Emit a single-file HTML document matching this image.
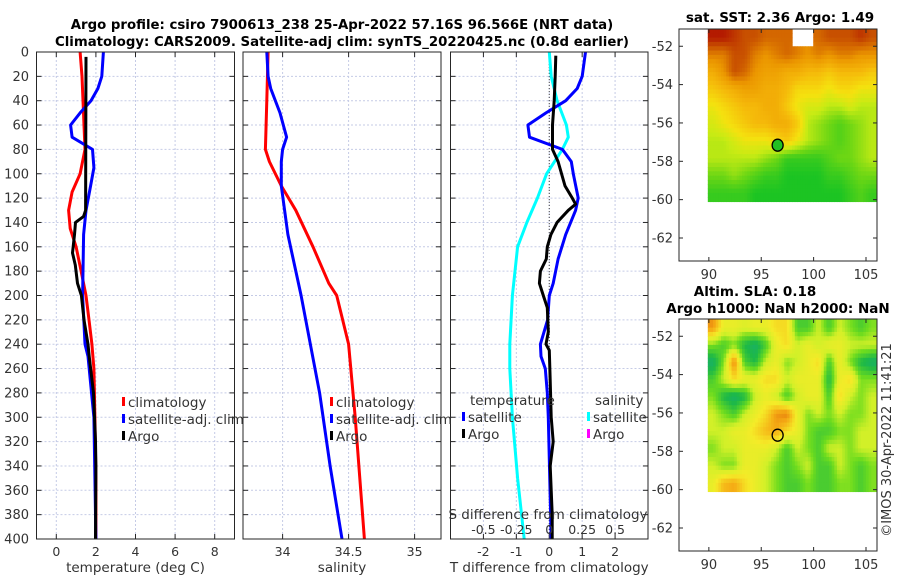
<!DOCTYPE html>
<html><head><meta charset="utf-8">
<style>
html,body{margin:0;padding:0;background:#fff;}
svg{display:block;font-family:"DejaVu Sans","Liberation Sans",sans-serif;}
</style></head>
<body>
<svg id="fig" width="900" height="580" viewBox="0 0 900 580" xmlns="http://www.w3.org/2000/svg"></svg>
<script>
// ---------- data ----------
const depthTicks=[0,20,40,60,80,100,120,140,160,180,200,220,240,260,280,300,320,340,360,380,400];
const tempTicks=[0,2,4,6,8];
const salTicks=[34,34.5,35];
const tdiffTicks=[-2,-1,0,1,2];
const sdiffTicks=[-0.5,-0.25,0,0.25,0.5];
const sdiffLabels=["-0.5","-0.25","0","0.25","0.5"];

const climTDepth=[0,20,40,60,80,100,115,130,145,160,180,200,220,240,260,300,350,400];
const climTVal=[1.2,1.3,1.35,1.4,1.45,1.2,0.8,0.62,0.7,1.0,1.25,1.5,1.65,1.8,1.9,1.95,2.0,2.0];
const satTDepth=[0,20,30,40,50,60,70,80,95,110,130,150,200,240,250,300,400];
const satTVal=[2.38,2.3,2.1,1.75,1.2,0.72,0.8,1.83,1.9,1.73,1.5,1.38,1.33,1.45,1.6,1.9,2.0];
const argoTDepth=[4,130,135,140,150,165,175,190,200,220,240,250,280,320,340,400];
const argoTVal=[1.5,1.48,1.38,0.97,0.92,0.82,0.96,1.07,1.27,1.4,1.6,1.66,1.88,1.98,2.0,1.98];

const climSDepth=[0,40,80,90,110,130,160,190,200,240,300,400];
const climSVal=[33.89,33.88,33.87,33.9,33.99,34.1,34.23,34.35,34.41,34.5,34.55,34.62];
const satSDepth=[0,20,30,50,70,80,90,110,150,200,280,340,400];
const satSVal=[33.88,33.89,33.91,33.98,34.03,34.0,33.99,33.99,34.04,34.14,34.28,34.36,34.45];

const dTSatDepth=[0,20,30,40,50,60,70,80,90,100,120,130,150,170,190,200,220,240,250,260,280,300,400];
const dTSatVal=[1.1,1.0,0.85,0.5,-0.1,-0.65,-0.6,0.4,0.67,0.73,0.88,0.8,0.5,0.27,0.12,0,-0.05,-0.27,-0.25,-0.12,-0.06,-0.03,0.06];
const dTArgoDepth=[3,20,40,60,80,90,110,120,125,130,140,150,160,170,180,190,200,210,230,240,245,270,300,320,340,380,400];
const dTArgoVal=[0.2,0.18,0.15,0.1,0.1,0.27,0.48,0.7,0.8,0.58,0.24,0.05,-0.06,-0.09,-0.27,-0.3,-0.18,-0.06,-0.03,-0.1,0,0.03,0.06,0.12,0.03,0.09,0.09];
const dSSatDepth=[0,20,40,60,70,80,100,120,140,160,200,240,260,300,350,400];
const dSSatVal=[0,0.015,0.06,0.13,0.145,0.1,-0.02,-0.09,-0.17,-0.24,-0.28,-0.3,-0.3,-0.28,-0.24,-0.19];

const lonTicks=[90,95,100,105];
const latTicks=[-52,-54,-56,-58,-60,-62];
const gridLon0=89.9, gridLon1=106, gridLat0=-51.1, gridLat1=-60.1;
const sstGrid=[
[0.95,0.95,0.9,0.85,0.85,0.8,0.8,0.8,null,null,0.8,0.85,0.85,0.85,0.9,0.85],
[0.75,0.75,0.85,0.85,0.75,0.7,0.75,0.8,0.75,0.7,0.75,0.7,0.75,0.75,0.7,0.7],
[0.6,0.7,0.85,0.8,0.7,0.65,0.65,0.6,0.6,0.55,0.55,0.5,0.55,0.55,0.55,0.5],
[0.5,0.55,0.6,0.65,0.65,0.6,0.6,0.55,0.45,0.45,0.45,0.4,0.45,0.45,0.4,0.4],
[0.4,0.45,0.5,0.55,0.55,0.6,0.6,0.5,0.4,0.35,0.35,0.3,0.3,0.35,0.3,0.3],
[0.35,0.4,0.45,0.5,0.55,0.55,0.6,0.6,0.5,0.3,0.25,0.2,0.15,0.2,0.25,0.3],
[0.3,0.3,0.35,0.4,0.4,0.4,0.45,0.5,0.4,0.3,0.25,0.2,0.15,0.2,0.25,0.3],
[0.3,0.3,0.3,0.3,0.3,0.25,0.2,0.1,0.1,0.1,0.1,0.15,0.2,0.2,0.25,0.3],
[0.2,0.2,0.25,0.2,0.15,0.1,0.1,0.05,0.05,0.05,0.05,0.1,0.1,0.15,0.2,0.2],
[0.1,0.1,0.1,0.1,0.05,0.05,0.05,0.05,0.05,0.05,0.05,0.05,0.05,0.1,0.15,0.1]];
const slaGrid=[
[0.9,0.6,0.6,0.55,0.6,0.6,0.7,0.7,0.3,0.3,0.5,0.3,0.5,0.4,0.3,0.4],
[0.4,0.3,0.4,0.2,0.1,0.3,0.6,0.7,0.5,0.6,0.5,0.6,0.6,0.5,0.5,0.5],
[0.1,0.4,0.95,0.3,0.2,0.5,0.6,0.4,0.5,0.6,0.7,0.3,0.6,0.4,0.2,0.1],
[0.3,0.5,0.7,0.6,0.6,0.7,0.7,0.5,0.6,0.6,0.6,0.2,0.6,0.7,0.4,0.4],
[0.4,0.2,0.1,0.2,0.5,0.6,0.5,0.3,0.5,0.6,0.6,0.3,0.7,0.5,0.4,0.5],
[0.5,0.4,0.3,0.5,0.6,0.7,0.9,0.95,0.6,0.4,0.5,0.4,0.5,0.4,0.4,0.5],
[0.5,0.5,0.6,0.6,0.7,0.8,0.85,0.7,0.6,0.4,0.3,0.3,0.4,0.4,0.5,0.5],
[0.4,0.5,0.5,0.6,0.6,0.6,0.5,0.3,0.5,0.4,0.3,0.5,0.5,0.4,0.5,0.5],
[0.5,0.4,0.4,0.6,0.6,0.5,0.4,0.3,0.4,0.5,0.3,0.3,0.5,0.4,0.3,0.4],
[0.6,0.8,0.85,0.7,0.6,0.5,0.4,0.3,0.3,0.4,0.3,0.3,0.4,0.4,0.3,0.4]];
const argoLon=96.566, argoLat=-57.16;

// ---------- helpers ----------
const svg=document.getElementById('fig');
const NS='http://www.w3.org/2000/svg';
function mk(tag,attrs,parent){const e=document.createElementNS(NS,tag);for(const k in attrs)e.setAttribute(k,attrs[k]);(parent||svg).appendChild(e);return e;}
function txt(s,x,y,opts,parent){const e=mk('text',Object.assign({x:x,y:y,'font-size':12.5,fill:'#333'},opts||{}),parent);e.textContent=s;return e;}
function lin(d0,d1,p0,p1){return v=>p0+(v-d0)/(d1-d0)*(p1-p0);}

const TOP=52, BOT=539;
const yD=lin(0,400,TOP,BOT);
const panels=[
 {name:'temperature',x0:36.5,x1:234.5,d0:-1,d1:9,ticks:tempTicks,label:'temperature (deg C)'},
 {name:'salinity',x0:243,x1:441,d0:33.7,d1:35.2,ticks:salTicks,label:'salinity'},
 {name:'difference',x0:450.5,x1:648,d0:-3,d1:3,ticks:tdiffTicks,label:'T difference from climatology'}
];
panels.forEach((p,i)=>{
 const g=mk('g',{});
 
 
 p.x=lin(p.d0,p.d1,p.x0,p.x1);
 depthTicks.forEach(d=>{mk('line',{x1:p.x0,x2:p.x1,y1:yD(d),y2:yD(d),stroke:'#c5cbe6','stroke-width':1,'stroke-dasharray':'2,2'},g);});
 p.ticks.forEach(t=>{mk('line',{x1:p.x(t),x2:p.x(t),y1:TOP,y2:BOT,stroke:'#c5cbe6','stroke-width':1,'stroke-dasharray':'2,2'},g);});
 depthTicks.forEach(d=>{mk('line',{x1:p.x0,x2:p.x0+5,y1:yD(d),y2:yD(d),stroke:'#262626'},g);mk('line',{x1:p.x1-5,x2:p.x1,y1:yD(d),y2:yD(d),stroke:'#262626'},g);});
 p.ticks.forEach(t=>{mk('line',{x1:p.x(t),x2:p.x(t),y1:BOT,y2:BOT-5,stroke:'#262626'},g);mk('line',{x1:p.x(t),x2:p.x(t),y1:TOP,y2:TOP+5,stroke:'#262626'},g);
   const l=txt(String(t),p.x(t),556,{'text-anchor':'middle'},g);
   });
 const xl=txt(p.label,(p.x0+p.x1)/2,572,{'text-anchor':'middle','font-size':13.5},g);
 
 if(i===0){depthTicks.forEach(d=>{const l=txt(String(d),29,yD(d)+4.5,{'text-anchor':'end','font-size':13},g);
   });}
});
function series(p,xmap,depths,vals,color,name,w){
 const pts=depths.map((d,k)=>xmap(vals[k]).toFixed(1)+','+yD(d).toFixed(1)).join(' ');
 const e=mk('polyline',{points:pts,fill:'none',stroke:color,'stroke-width':w||3,'stroke-linejoin':'round'});
 
 
}
const P0=panels[0],P1=panels[1],P2=panels[2];
mk('line',{x1:P2.x(0),x2:P2.x(0),y1:TOP,y2:BOT,stroke:'#444','stroke-width':1,'stroke-dasharray':'1,2'});
series(P0,P0.x,climTDepth,climTVal,'#f00','climatology-temperature-line');
series(P0,P0.x,satTDepth,satTVal,'#00f','satellite-adj-temperature-line');
series(P0,P0.x,argoTDepth,argoTVal,'#000','argo-temperature-line');
series(P1,P1.x,climSDepth,climSVal,'#f00','climatology-salinity-line');
series(P1,P1.x,satSDepth,satSVal,'#00f','satellite-adj-salinity-line');
const xS=lin(-0.75,0.75,P2.x0,P2.x1);
series(P2,xS,dSSatDepth,dSSatVal,'#0ff','salinity-diff-satellite-line');
series(P2,P2.x,dTSatDepth,dTSatVal,'#00f','temperature-diff-satellite-line');
series(P2,P2.x,dTArgoDepth,dTArgoVal,'#000','temperature-diff-argo-line');
panels.forEach(p=>{const r=mk('rect',{x:p.x0,y:TOP,width:p.x1-p.x0,height:BOT-TOP,fill:'none',stroke:'#262626','stroke-width':1});
 });
const sl=txt('S difference from climatology',548,519,{'text-anchor':'middle','font-size':13.5});

sdiffTicks.forEach((t,k)=>{const l=txt(sdiffLabels[k],xS(t),534,{'text-anchor':'middle','font-size':12.5});
 });
function legend(x,y,items,name){const g=mk('g',{});
 items.forEach((it,k)=>{const yy=y+k*17;
  if(it.c)mk('rect',{x:x,y:yy-10,width:3,height:9,fill:it.c},g);
  txt(it.t,x+(it.c?6:0),yy,{'font-size':13.5},g);});}
legend(122,407,[{t:'climatology',c:'#f00'},{t:'satellite-adj. clim',c:'#00f'},{t:'Argo',c:'#000'}],'temperature-legend');
legend(330,407,[{t:'climatology',c:'#f00'},{t:'satellite-adj. clim',c:'#00f'},{t:'Argo',c:'#000'}],'salinity-legend');
legend(470,405,[{t:'temperature'}],'diff-legend-title-t');
legend(462,422,[{t:'satellite',c:'#00f'},{t:'Argo',c:'#000'}],'diff-legend-temperature');
legend(595,405,[{t:'salinity'}],'diff-legend-title-s');
legend(587,422,[{t:'satellite',c:'#0ff'},{t:'Argo',c:'#f0f'}],'diff-legend-salinity');
const t1=txt('Argo profile: csiro 7900613_238 25-Apr-2022 57.16S 96.566E (NRT data)',342,29,{'text-anchor':'middle','font-size':13.3,'font-weight':'bold',fill:'#000'});

const t2=txt('Climatology: CARS2009. Satellite-adj clim: synTS_20220425.nc (0.8d earlier)',342,46,{'text-anchor':'middle','font-size':13.3,'font-weight':'bold',fill:'#000'});


// ---------- maps ----------
function sstColor(v){const stops=[[0,[0,190,40]],[0.2,[110,215,20]],[0.32,[200,235,20]],[0.42,[245,225,15]],[0.55,[245,185,10]],[0.7,[235,150,0]],[0.85,[200,80,0]],[1,[170,0,0]]];return interp(stops,v);}
function slaColor(v){const stops=[[0,[20,170,130]],[0.2,[30,185,70]],[0.38,[110,220,30]],[0.5,[210,240,40]],[0.65,[245,235,40]],[0.85,[245,170,20]],[1,[225,110,10]]];return interp(stops,v);}
function interp(st,v){for(let i=1;i<st.length;i++){if(v<=st[i][0]){const a=st[i-1],b=st[i],f=(v-a[0])/(b[0]-a[0]);return 'rgb('+a[1].map((c,k)=>Math.round(c+(b[1][k]-c)*f)).join(',')+')';}}return 'rgb('+st[st.length-1][1].join(',')+')';}
function sample(grid,fr,fc){
 const R=grid.length,C=grid[0].length;
 const r=Math.min(Math.max(fr,0),R-1),c=Math.min(Math.max(fc,0),C-1);
 const r0=Math.floor(r),c0=Math.floor(c),r1=Math.min(r0+1,R-1),c1=Math.min(c0+1,C-1);
 const fr1=r-r0,fc1=c-c0;
 const pts=[[grid[r0][c0],(1-fr1)*(1-fc1)],[grid[r0][c1],(1-fr1)*fc1],[grid[r1][c0],fr1*(1-fc1)],[grid[r1][c1],fr1*fc1]];
 const near=grid[Math.round(r)][Math.round(c)];
 if(near===null)return null;
 let s=0,w=0;pts.forEach(p=>{if(p[0]!==null){s+=p[0]*p[1];w+=p[1];}});
 return w>0?s/w:null;
}
function map(y0,grid,colorFn,name,titles,markerFill){
 const X0=679,X1=877,Y1=y0+232;
 const mx=lin(87.15,106.05,X0,X1), my=lin(-51.1,-63.2,y0,Y1);
 const g=mk('g',{});
 const rows=grid.length,cols=grid[0].length,UP=4;
 const dlon=(gridLon1-gridLon0)/(cols*UP),dlat=(gridLat0-gridLat1)/(rows*UP);
 for(let r=0;r<rows*UP;r++)for(let c=0;c<cols*UP;c++){
  const v=sample(grid,(r+0.5)/UP-0.5,(c+0.5)/UP-0.5);if(v===null)continue;
  const x=mx(gridLon0+c*dlon),y=my(gridLat0-r*dlat);
  const cell=mk('rect',{x:x.toFixed(2),y:y.toFixed(2),width:(mx(gridLon0+(c+1)*dlon)-x+0.5).toFixed(2),height:(my(gridLat0-(r+1)*dlat)-y+0.5).toFixed(2),fill:colorFn(v)},g);
  
  
 }
 mk('rect',{x:X0,y:y0,width:X1-X0,height:Y1-y0,fill:'none',stroke:'#262626'},g);
 lonTicks.forEach(l=>{mk('line',{x1:mx(l),x2:mx(l),y1:Y1,y2:Y1-4,stroke:'#262626'},g);mk('line',{x1:mx(l),x2:mx(l),y1:y0,y2:y0+4,stroke:'#262626'},g);
  const t=txt(String(l),mx(l),Y1+18,{'text-anchor':'middle','font-size':13},g);});
 latTicks.forEach(l=>{mk('line',{x1:X0,x2:X0+4,y1:my(l),y2:my(l),stroke:'#262626'},g);mk('line',{x1:X1,x2:X1-4,y1:my(l),y2:my(l),stroke:'#262626'},g);
  const t=txt(String(l),673,my(l)+4.5,{'text-anchor':'end','font-size':13},g);});
 const m=mk('ellipse',{cx:mx(argoLon),cy:my(argoLat),rx:5.5,ry:6,fill:markerFill,stroke:'#000','stroke-width':1.3},g);
 
 titles.forEach(tt=>{const t=txt(tt[0],tt[1],tt[2],{'text-anchor':'middle','font-size':13.5,'font-weight':'bold',fill:'#000'},g);});
}
map(29,sstGrid,sstColor,'sst-map',[['sat. SST: 2.36 Argo: 1.49',780,22]],'#22c022');
map(319,slaGrid,slaColor,'sla-map',[['Altim. SLA: 0.18',755,296],['Argo h1000: NaN h2000: NaN',778,313]],'none');
const cp=txt('©IMOS 30-Apr-2022 11:41:21',0,0,{'font-size':13,'text-anchor':'middle',transform:'translate(891,440) rotate(-90)'});

</script>
</body></html>
